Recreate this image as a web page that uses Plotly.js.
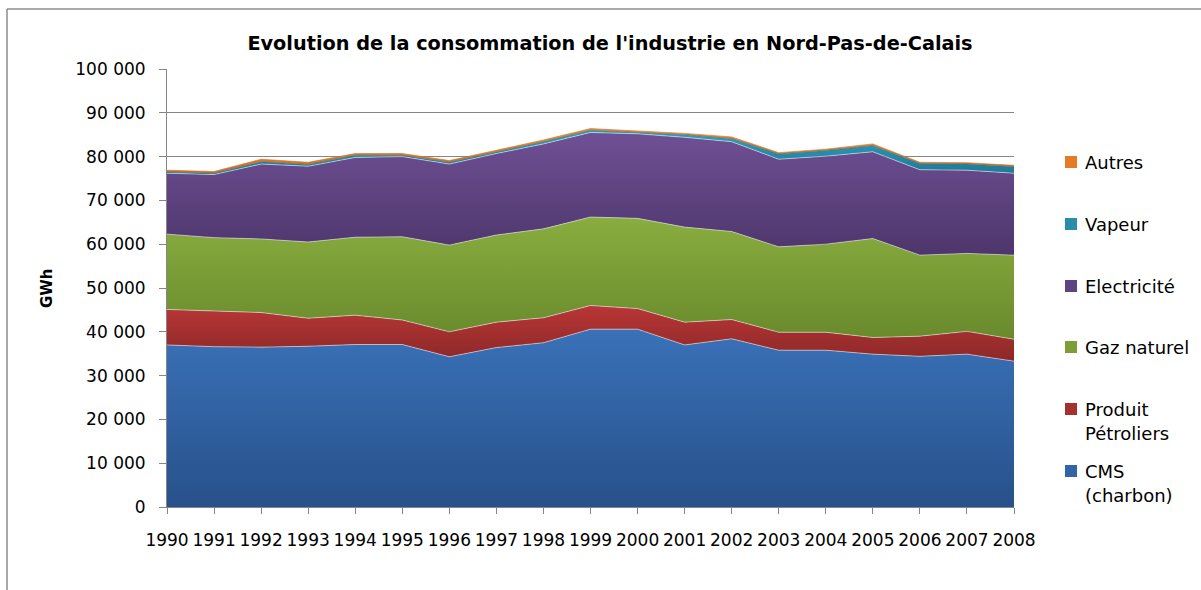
<!DOCTYPE html>
<html>
<head>
<meta charset="utf-8">
<script src="https://cdn.plot.ly/plotly-3.0.1.min.js"></script>
<style>html,body{margin:0;padding:0;background:#fff;}#chart{width:1201px;height:590px;}</style>
</head>
<body>
<div id="chart"></div>
<script>
// ---- Data (GWh) ----
const years = [1990,1991,1992,1993,1994,1995,1996,1997,1998,1999,2000,2001,2002,2003,2004,2005,2006,2007,2008];
const cms        = [37000,36600,36500,36700,37100,37100,34300,36400,37500,40600,40600,37000,38400,35800,35800,34900,34400,34900,33300];
const petroliers = [8100,8100,7900,6400,6700,5600,5700,5800,5700,5400,4700,5200,4400,4100,4100,3800,4600,5200,5000];
const gaz        = [17200,16800,16800,17400,17800,19000,19800,19900,20300,20200,20600,21700,20100,19500,20100,22600,18500,17800,19200];
const electricite= [13900,14400,17100,17300,18200,18300,18500,18600,19400,19300,19300,20500,20500,20000,20100,19800,19500,19000,18700];
const vapeur     = [300,300,500,400,500,300,400,300,500,500,300,600,700,1200,1300,1400,1400,1400,1500];
const autres     = [400,400,600,500,400,400,400,400,400,400,300,300,400,300,300,400,300,300,300];
const seriesNames = ['CMS (charbon)','Produit Pétroliers','Gaz naturel','Electricité','Vapeur','Autres'];
const legendLines = [['CMS','(charbon)'],['Produit','Pétroliers'],['Gaz naturel'],['Electricité'],['Vapeur'],['Autres']];
const yTickVals = [0,10000,20000,30000,40000,50000,60000,70000,80000,90000,100000];

// ---- Styles ----
const series = [cms, petroliers, gaz, electricite, vapeur, autres];
const light = ['#3a71b8','#b93636','#8aad40','#6f5095','#2fa0c0','#f28a2e'];
const dark  = ['#27518a','#8c2828','#688a2c','#4d366b','#1f7894','#d46c1c'];
const mid   = ['#3364a8','#a53030','#7c9e37','#5f4484','#2a8dab','#e67b25'];

// geometry helpers (pixel -> paper) for plot area 167..1014 x 69..507
const L=167, R=1014, T=69, B=507;
const px = x => (x-L)/(R-L);
const py = y => (B-y)/(B-T);

const traces = [];
let lower = years.map(()=>0);
series.forEach((s,i)=>{
  const upper = s.map((v,k)=>v+lower[k]);
  const start = Math.min(...lower), stop = Math.max(...upper);
  traces.push({
    x: years, y: s, name: seriesNames[i], type:'scatter', mode:'lines',
    stackgroup:'one', showlegend:false, hoverinfo:'skip',
    line:{width: i>=4 ? 0.6 : 0.8, color: i>=4 ? dark[i] : 'rgba(235,235,235,0.7)'},
    fillcolor: mid[i],
    fillgradient:{type:'vertical', start:start, stop:stop, colorscale:[[0,dark[i]],[1,light[i]]]}
  });
  lower = upper;
});

const annotations = [];
const shapes = [];
// legend (top to bottom: Autres ... CMS)
const legendY = [471,409,347,286,224,162];
legendLines.forEach((lines,i)=>{
  const yc = legendY[i];
  shapes.push({type:'rect', xref:'paper', yref:'paper', x0:px(1065), x1:px(1077), y0:py(yc+6), y1:py(yc-6),
    fillcolor: mid[i], line:{width:0}});
  lines.forEach((t,j)=>{
    annotations.push({xref:'paper', yref:'paper', x:px(1083), y:py(yc + j*24), xanchor:'left', yanchor:'middle',
      text:t, showarrow:false, font:{family:'DejaVu Sans', size:18, color:'#000'}});
  });
});
// y axis title
annotations.push({xref:'paper', yref:'paper', x:px(47), y:py(288), xanchor:'center', yanchor:'middle',
  text:'GWh', textangle:-90, showarrow:false, font:{family:'DejaVu Sans', size:15, color:'#000', weight:'bold'}});
// chart border
shapes.push({type:'line', xref:'paper', yref:'paper', x0:px(7), x1:px(7), y0:py(9), y1:py(600), line:{color:'#8c8c8c', width:1.5}});
shapes.push({type:'line', xref:'paper', yref:'paper', x0:px(7), x1:px(1205), y0:py(9), y1:py(9), line:{color:'#8c8c8c', width:1.5}});

const layout = {
  width:1201, height:590,
  margin:{l:L, r:1201-R, t:T, b:590-B, pad:0},
  paper_bgcolor:'#fff', plot_bgcolor:'#fff',
  separators:', ',
  showlegend:false,
  title:{text:"Evolution de la consommation de l'industrie en Nord-Pas-de-Calais",
    font:{family:'DejaVu Sans', size:19.3, color:'#000', weight:'bold'},
    xref:'container', x:610/1201, xanchor:'center', yref:'container', y:1-43/590, yanchor:'middle'},
  xaxis:{range:[1990,2008], tickvals:years, ticktext:years.map(String), ticks:'outside', ticklen:6, tickcolor:'#868686',
    showline:true, linecolor:'#868686', linewidth:1, showgrid:false, zeroline:false,
    tickfont:{family:'DejaVu Sans', size:17, color:'#000'}, ticklabelstandoff:12},
  yaxis:{range:[0,100000], tickvals:yTickVals, tickformat:',d', ticks:'outside', ticklen:7, tickcolor:'#868686',
    showline:true, linecolor:'#868686', linewidth:1, showgrid:true, gridcolor:'#868686', gridwidth:1, zeroline:false,
    tickfont:{family:'DejaVu Sans', size:17, color:'#000'}, ticklabelstandoff:10},
  annotations:annotations, shapes:shapes
};

Plotly.newPlot('chart', traces, layout, {staticPlot:true, displayModeBar:false});
</script>
</body>
</html>
